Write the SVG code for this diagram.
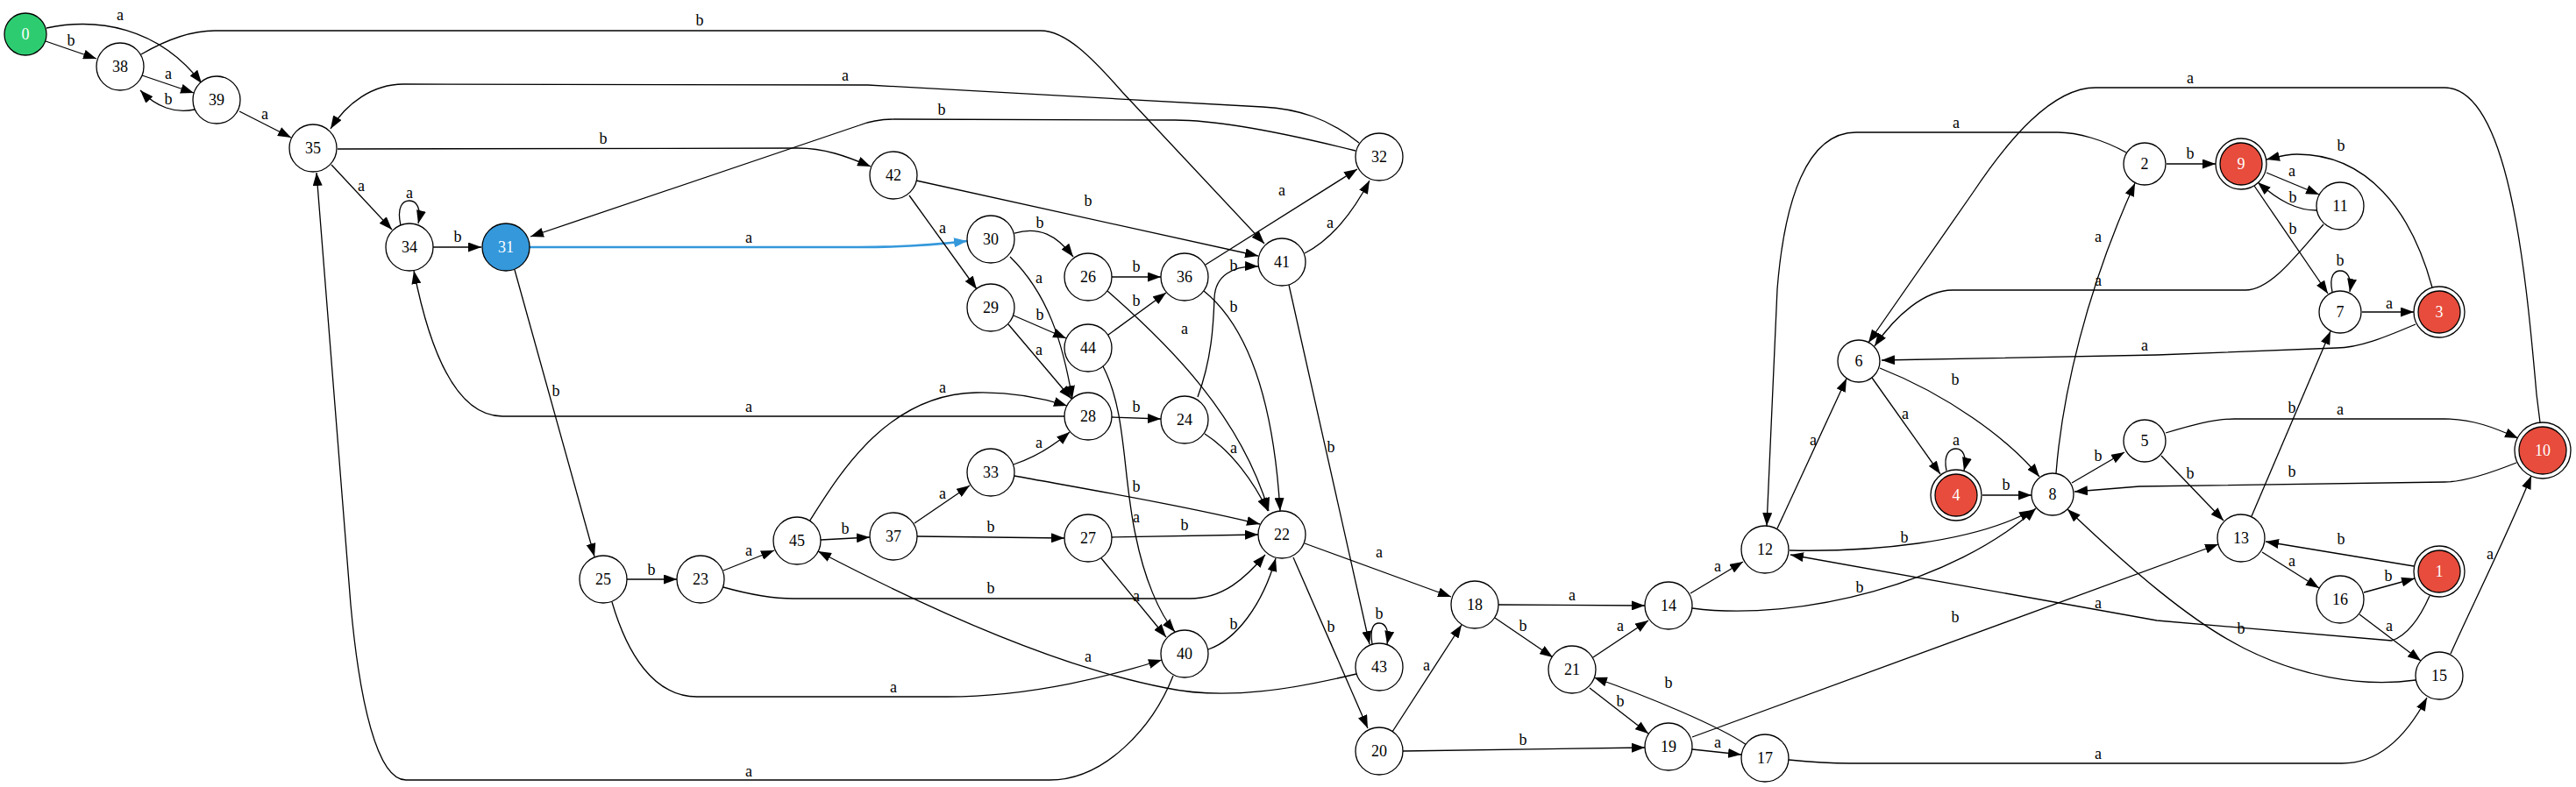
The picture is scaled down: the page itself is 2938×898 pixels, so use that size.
<svg xmlns="http://www.w3.org/2000/svg" width="2938" height="898" viewBox="0 0 2938 898">
<style>
.e{fill:none;stroke:#000;stroke-width:1.3;marker-end:url(#ah)}
.eb{fill:none;stroke:#3498db;stroke-width:2.6;marker-end:url(#ahb)}
text{font-family:"Liberation Serif","Times New Roman",serif;font-size:18px;text-anchor:middle;fill:#000}
.n circle{fill:#fff;stroke:#000;stroke-width:1.3}
.acc circle.in{fill:#e74c3c}
.acc text,.start text,.cur text{fill:#fff}
.start circle{fill:#2ecc71}
.cur circle{fill:#3498db}
</style>
<defs>
<marker id="ah" markerUnits="userSpaceOnUse" markerWidth="15" markerHeight="11" refX="15" refY="5.5" orient="auto"><path d="M0,0 L15,5.5 L0,11 z" fill="#000"/></marker>
<marker id="ahb" markerUnits="userSpaceOnUse" markerWidth="15" markerHeight="11" refX="15" refY="5.5" orient="auto"><path d="M0,0 L15,5.5 L0,11 z" fill="#3498db"/></marker>
</defs>
<rect width="2938" height="898" fill="#fff"/>
<g id="edges">
<path class="e" d="M52,47 L110,67"/><text x="81" y="52">b</text>
<path class="e" d="M53,32 C110,20 180,30 230,95"/><text x="137" y="23">a</text>
<path class="e" d="M162,86 L221,106"/><text x="192" y="90">a</text>
<path class="e" d="M222,125 C200,130 178,122 160,103"/><text x="192" y="119">b</text>
<path class="e" d="M273,127 L332,157"/><text x="302" y="136">a</text>
<path class="e" d="M161,62 C185,48 215,35 245,35 L1187,35 C1215,35 1245,65 1280,105 L1442,278"/><text x="798" y="29">b</text>
<path class="e" d="M1550,163 C1515,135 1480,124 1440,122 L990,97 L460,96 C425,96 395,118 377,147"/><text x="964" y="92">a</text>
<path class="e" d="M1546,172 C1490,158 1400,137 1340,137 L1020,136 C1000,136 990,139 980,143 L605,270"/><text x="1074" y="131">b</text>
<path class="e" d="M385,170 L910,169 C940,169 965,178 993,190"/><text x="688" y="164">b</text>
<path class="e" d="M378,188 L447,262"/><text x="412" y="218">a</text>
<path class="e" d="M457,257 C452,235 460,229 467,229 C475,229 481,238 477,255"/><text x="467" y="226">a</text>
<path class="e" d="M494,282 L549,282"/><text x="522" y="276">b</text>
<path class="eb" d="M604,282 L980,282 C1030,282 1070,279 1103,275"/><text x="854" y="277">a</text>
<path class="e" d="M587,308 L678,635"/><text x="634" y="452">b</text>
<path class="e" d="M1214,475 L573,475 C520,475 490,400 472,309"/><text x="854" y="470">a</text>
<path class="e" d="M1338,771 C1315,830 1260,890 1197,890 L463,890 C430,890 410,800 400,690 L361,197"/><text x="854" y="886">a</text>
<path class="e" d="M1045,206 L1435,292"/><text x="1241" y="235">b</text>
<path class="e" d="M1037,223 L1114,330"/><text x="1075" y="266">a</text>
<path class="e" d="M1157,266 C1185,258 1205,268 1224,293"/><text x="1186" y="260">b</text>
<path class="e" d="M1152,293 C1195,335 1212,390 1223,455"/><text x="1185" y="323">a</text>
<path class="e" d="M1150,370 L1222,455"/><text x="1185" y="405">a</text>
<path class="e" d="M1156,360 L1216,386"/><text x="1186" y="365">b</text>
<path class="e" d="M1268,316 L1324,316"/><text x="1296" y="310">b</text>
<path class="e" d="M1264,382 L1330,334"/><text x="1296" y="349">b</text>
<path class="e" d="M1263,332 C1335,395 1415,475 1447,583"/><text x="1351" y="381">a</text>
<path class="e" d="M1375,302 L1548,193"/><text x="1462" y="223">a</text>
<path class="e" d="M1488,289 C1515,275 1540,248 1562,206"/><text x="1517" y="260">a</text>
<path class="e" d="M1373,332 C1420,370 1452,450 1460,583"/><text x="1407" y="356">b</text>
<path class="e" d="M1366,453 C1382,410 1384,370 1385,340 C1386,315 1405,303 1435,304"/><text x="1407" y="309">b</text>
<path class="e" d="M1470,325 L1562,735"/><text x="1518" y="516">b</text>
<path class="e" d="M1565,735 C1562,716 1567,711 1573,711 C1580,711 1585,719 1582,735"/><text x="1573" y="706">b</text>
<path class="e" d="M1268,476 L1324,478"/><text x="1296" y="470">b</text>
<path class="e" d="M1374,495 C1405,515 1430,550 1446,583"/><text x="1407" y="517">a</text>
<path class="e" d="M1156,530 C1180,522 1200,510 1220,493"/><text x="1185" y="511">a</text>
<path class="e" d="M1157,543 C1250,560 1350,577 1437,598"/><text x="1296" y="561">b</text>
<path class="e" d="M1043,597 L1106,554"/><text x="1075" y="569">a</text>
<path class="e" d="M1046,612 L1214,614"/><text x="1130" y="607">b</text>
<path class="e" d="M1268,613 L1435,610"/><text x="1351" y="605">b</text>
<path class="e" d="M1256,637 L1330,727"/><text x="1296" y="686">a</text>
<path class="e" d="M1258,418 C1285,470 1280,540 1295,610 C1305,660 1322,700 1340,721"/><text x="1296" y="596">a</text>
<path class="e" d="M1378,741 C1410,730 1440,690 1455,637"/><text x="1407" y="718">b</text>
<path class="e" d="M825,670 C850,677 880,683 905,683 L1357,683 C1395,683 1420,660 1443,633"/><text x="1130" y="677">b</text>
<path class="e" d="M923,595 C955,545 1010,450 1113,448 C1150,447 1185,453 1217,463"/><text x="1075" y="448">a</text>
<path class="e" d="M936,616 L992,613"/><text x="964" y="609">b</text>
<path class="e" d="M1547,769 C1480,785 1400,800 1330,785 C1200,760 1050,690 933,629"/><text x="1241" y="755">a</text>
<path class="e" d="M698,687 C715,745 745,795 795,795 L1080,795 C1180,795 1270,770 1325,753"/><text x="1019" y="790">a</text>
<path class="e" d="M825,651 L883,628"/><text x="854" y="634">a</text>
<path class="e" d="M715,661 L772,661"/><text x="743" y="656">b</text>
<path class="e" d="M1488,620 L1655,681"/><text x="1573" y="636">a</text>
<path class="e" d="M1475,636 L1560,831"/><text x="1518" y="721">b</text>
<path class="e" d="M1588,835 L1667,713"/><text x="1627" y="765">a</text>
<path class="e" d="M1600,857 L1876,853"/><text x="1737" y="850">b</text>
<path class="e" d="M1709,690 L1876,691"/><text x="1793" y="685">a</text>
<path class="e" d="M1705,705 L1771,750"/><text x="1737" y="720">b</text>
<path class="e" d="M1817,750 L1880,708"/><text x="1848" y="720">a</text>
<path class="e" d="M1813,785 L1880,837"/><text x="1848" y="806">b</text>
<path class="e" d="M1992,850 C1960,828 1880,795 1818,773"/><text x="1903" y="785">b</text>
<path class="e" d="M1930,855 L1986,861"/><text x="1959" y="853">a</text>
<path class="e" d="M1930,841 L2530,621"/><text x="2230" y="710">b</text>
<path class="e" d="M1928,677 L1988,641"/><text x="1959" y="652">a</text>
<path class="e" d="M1930,694 C2050,710 2230,665 2322,580"/><text x="2121" y="676">b</text>
<path class="e" d="M2027,603 L2106,432"/><text x="2068" y="508">a</text>
<path class="e" d="M2041,628 C2130,630 2250,620 2318,582"/><text x="2172" y="619">b</text>
<path class="e" d="M2425,174 C2400,160 2370,151 2347,151 L2117,151 C2060,151 2035,230 2027,330 L2015,600"/><text x="2231" y="146">a</text>
<path class="e" d="M2897,482 L2893,450 C2880,300 2860,100 2788,100 L2390,100 C2340,100 2290,160 2250,220 L2131,391"/><text x="2498" y="95">a</text>
<path class="e" d="M2650,256 C2620,290 2590,331 2561,331 L2227,331 C2195,331 2162,360 2138,395"/><text x="2393" y="326">a</text>
<path class="e" d="M2755,370 C2720,385 2690,397 2665,397 L2460,405 L2146,411"/><text x="2446" y="400">a</text>
<path class="e" d="M2345,540 C2352,450 2380,330 2435,209"/><text x="2393" y="276">a</text>
<path class="e" d="M2135,431 L2213,541"/><text x="2173" y="478">a</text>
<path class="e" d="M2144,420 C2220,450 2290,500 2326,544"/><text x="2230" y="439">b</text>
<path class="e" d="M2220,537 C2216,518 2224,512 2231,512 C2238,512 2244,520 2240,537"/><text x="2231" y="508">a</text>
<path class="e" d="M2261,565 L2317,565"/><text x="2288" y="559">b</text>
<path class="e" d="M2363,551 L2423,516"/><text x="2393" y="526">b</text>
<path class="e" d="M2870,528 C2840,540 2810,550 2788,550 L2440,555 L2366,561"/><text x="2614" y="544">b</text>
<path class="e" d="M2470,494 C2500,485 2525,478 2548,478 L2788,478 C2820,478 2845,488 2872,500"/><text x="2669" y="473">a</text>
<path class="e" d="M2465,520 L2536,594"/><text x="2498" y="546">b</text>
<path class="e" d="M2568,589 L2658,378"/><text x="2614" y="471">b</text>
<path class="e" d="M2580,630 L2645,671"/><text x="2614" y="646">a</text>
<path class="e" d="M2696,676 L2754,660"/><text x="2724" y="663">b</text>
<path class="e" d="M2691,701 L2761,754"/><text x="2725" y="720">a</text>
<path class="e" d="M2753,646 L2584,618"/><text x="2670" y="621">b</text>
<path class="e" d="M2795,746 C2820,690 2860,610 2887,543"/><text x="2840" y="638">a</text>
<path class="e" d="M2755,776 C2690,785 2620,770 2560,740 C2500,710 2430,650 2358,581"/><text x="2556" y="723">b</text>
<path class="e" d="M2771,680 C2760,705 2745,725 2728,731 L2460,708 L2042,633"/><text x="2393" y="694">a</text>
<path class="e" d="M2040,867 C2060,869 2090,871 2110,871 L2671,871 C2720,871 2750,830 2768,796"/><text x="2393" y="866">a</text>
<path class="e" d="M2585,197 L2645,222"/><text x="2614" y="201">a</text>
<path class="e" d="M2642,240 C2620,240 2600,230 2575,208"/><text x="2615" y="231">b</text>
<path class="e" d="M2571,212 L2655,335"/><text x="2615" y="267">b</text>
<path class="e" d="M2660,333 C2656,314 2663,309 2669,309 C2676,309 2683,316 2680,333"/><text x="2669" y="303">b</text>
<path class="e" d="M2694,356 L2753,356"/><text x="2725" y="352">a</text>
<path class="e" d="M2774,328 C2750,240 2700,176 2620,176 C2608,176 2597,179 2585,182"/><text x="2670" y="172">b</text>
<path class="e" d="M2471,187 L2527,187"/><text x="2498" y="181">b</text>
</g>
<g id="n0" class="n start"><circle cx="29" cy="39" r="24"/><text x="29" y="45">0</text></g>
<g id="n38" class="n"><circle cx="137" cy="76" r="27"/><text x="137" y="82">38</text></g>
<g id="n39" class="n"><circle cx="247" cy="114" r="27"/><text x="247" y="120">39</text></g>
<g id="n35" class="n"><circle cx="357" cy="169" r="27"/><text x="357" y="175">35</text></g>
<g id="n34" class="n"><circle cx="467" cy="282" r="27"/><text x="467" y="288">34</text></g>
<g id="n31" class="n cur"><circle cx="577" cy="282" r="27"/><text x="577" y="288">31</text></g>
<g id="n42" class="n"><circle cx="1019" cy="200" r="27"/><text x="1019" y="206">42</text></g>
<g id="n30" class="n"><circle cx="1130" cy="273" r="27"/><text x="1130" y="279">30</text></g>
<g id="n26" class="n"><circle cx="1241" cy="316" r="27"/><text x="1241" y="322">26</text></g>
<g id="n36" class="n"><circle cx="1351" cy="316" r="27"/><text x="1351" y="322">36</text></g>
<g id="n41" class="n"><circle cx="1462" cy="299" r="27"/><text x="1462" y="305">41</text></g>
<g id="n29" class="n"><circle cx="1130" cy="351" r="27"/><text x="1130" y="357">29</text></g>
<g id="n44" class="n"><circle cx="1241" cy="397" r="27"/><text x="1241" y="403">44</text></g>
<g id="n28" class="n"><circle cx="1241" cy="475" r="27"/><text x="1241" y="481">28</text></g>
<g id="n24" class="n"><circle cx="1351" cy="479" r="27"/><text x="1351" y="485">24</text></g>
<g id="n33" class="n"><circle cx="1130" cy="539" r="27"/><text x="1130" y="545">33</text></g>
<g id="n37" class="n"><circle cx="1019" cy="612" r="27"/><text x="1019" y="618">37</text></g>
<g id="n27" class="n"><circle cx="1241" cy="614" r="27"/><text x="1241" y="620">27</text></g>
<g id="n22" class="n"><circle cx="1462" cy="610" r="27"/><text x="1462" y="616">22</text></g>
<g id="n40" class="n"><circle cx="1351" cy="746" r="27"/><text x="1351" y="752">40</text></g>
<g id="n25" class="n"><circle cx="688" cy="661" r="27"/><text x="688" y="667">25</text></g>
<g id="n23" class="n"><circle cx="799" cy="661" r="27"/><text x="799" y="667">23</text></g>
<g id="n45" class="n"><circle cx="909" cy="617" r="27"/><text x="909" y="623">45</text></g>
<g id="n32" class="n"><circle cx="1573" cy="179" r="27"/><text x="1573" y="185">32</text></g>
<g id="n43" class="n"><circle cx="1573" cy="761" r="27"/><text x="1573" y="767">43</text></g>
<g id="n18" class="n"><circle cx="1682" cy="690" r="27"/><text x="1682" y="696">18</text></g>
<g id="n14" class="n"><circle cx="1903" cy="691" r="27"/><text x="1903" y="697">14</text></g>
<g id="n21" class="n"><circle cx="1793" cy="764" r="27"/><text x="1793" y="770">21</text></g>
<g id="n20" class="n"><circle cx="1573" cy="857" r="27"/><text x="1573" y="863">20</text></g>
<g id="n19" class="n"><circle cx="1903" cy="852" r="27"/><text x="1903" y="858">19</text></g>
<g id="n17" class="n"><circle cx="2013" cy="865" r="27"/><text x="2013" y="871">17</text></g>
<g id="n12" class="n"><circle cx="2013" cy="627" r="27"/><text x="2013" y="633">12</text></g>
<g id="n2" class="n"><circle cx="2446" cy="187" r="24"/><text x="2446" y="193">2</text></g>
<g id="n6" class="n"><circle cx="2120" cy="412" r="24"/><text x="2120" y="418">6</text></g>
<g id="n4" class="n acc"><circle cx="2231" cy="565" r="29"/><circle class="in" cx="2231" cy="565" r="24"/><text x="2231" y="571">4</text></g>
<g id="n8" class="n"><circle cx="2341" cy="564" r="24"/><text x="2341" y="570">8</text></g>
<g id="n5" class="n"><circle cx="2446" cy="503" r="24"/><text x="2446" y="509">5</text></g>
<g id="n9" class="n acc"><circle cx="2556" cy="187" r="29"/><circle class="in" cx="2556" cy="187" r="24"/><text x="2556" y="193">9</text></g>
<g id="n11" class="n"><circle cx="2669" cy="235" r="27"/><text x="2669" y="241">11</text></g>
<g id="n7" class="n"><circle cx="2669" cy="356" r="24"/><text x="2669" y="362">7</text></g>
<g id="n3" class="n acc"><circle cx="2782" cy="356" r="29"/><circle class="in" cx="2782" cy="356" r="24"/><text x="2782" y="362">3</text></g>
<g id="n10" class="n acc"><circle cx="2900" cy="514" r="32"/><circle class="in" cx="2900" cy="514" r="27"/><text x="2900" y="520">10</text></g>
<g id="n13" class="n"><circle cx="2556" cy="614" r="27"/><text x="2556" y="620">13</text></g>
<g id="n1" class="n acc"><circle cx="2782" cy="652" r="29"/><circle class="in" cx="2782" cy="652" r="24"/><text x="2782" y="658">1</text></g>
<g id="n16" class="n"><circle cx="2669" cy="684" r="27"/><text x="2669" y="690">16</text></g>
<g id="n15" class="n"><circle cx="2782" cy="771" r="27"/><text x="2782" y="777">15</text></g>
</svg>
